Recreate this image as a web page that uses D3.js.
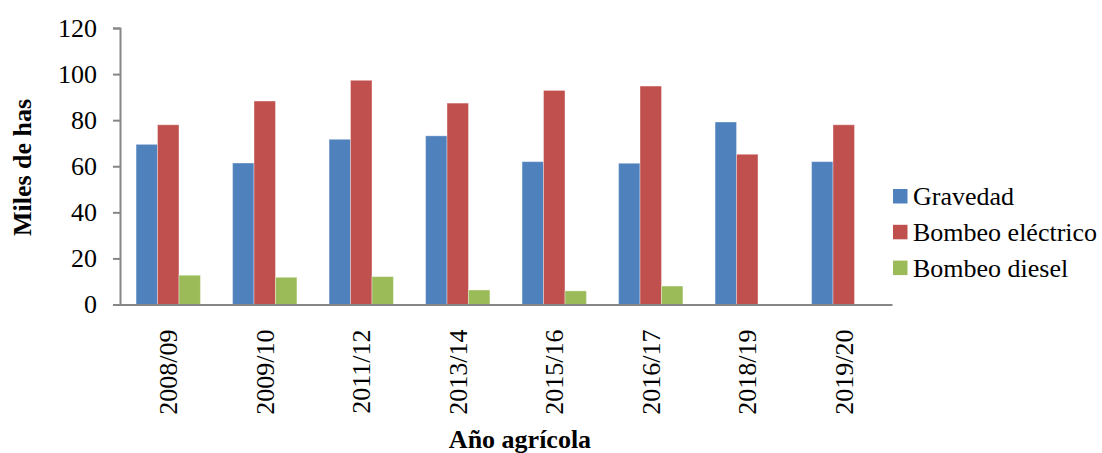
<!DOCTYPE html>
<html>
<head>
<meta charset="utf-8">
<script src="https://cdn.jsdelivr.net/npm/d3@7/dist/d3.min.js"></script>
<style>
  html, body { margin: 0; padding: 0; background: #fff; }
  svg { display: block; }
  text { font-family: "Liberation Serif", "Times New Roman", serif; fill: #000; }
</style>
</head>
<body>
<svg id="chart" width="1102" height="453"></svg>
<script>
// Superficie regada por tipo de riego (miles de hectáreas)
const categories = ["2008/09", "2009/10", "2011/12", "2013/14", "2015/16", "2016/17", "2018/19", "2019/20"];
const seriesNames = ["Gravedad", "Bombeo eléctrico", "Bombeo diesel"];
const gravedad = [69.5, 61.4, 71.7, 73.2, 62.0, 61.3, 79.2, 62.0];
const bombeoElectrico = [78.0, 88.3, 97.3, 87.4, 92.9, 94.8, 65.2, 78.0];
const bombeoDiesel = [12.7, 11.8, 12.1, 6.3, 5.9, 8.0, null, null];
const yTicks = [0, 20, 40, 60, 80, 100, 120];
const colors = ["#4F81BD", "#C0504D", "#9BBB59"];

const seriesValues = [gravedad, bombeoElectrico, bombeoDiesel];

const svg = d3.select("#chart");
const plotLeft = 120, plotRight = 892, plotTop = 28, plotBottom = 304.5;
const axisColor = "#868686";

const x0 = d3.scaleBand().domain(categories).range([plotLeft, plotRight]).padding(0);
const x1 = d3.scaleBand().domain(seriesNames).range([0, x0.bandwidth()])
  .paddingInner(0).paddingOuter(0.75);
const y = d3.scaleLinear().domain([0, 120]).range([plotBottom, plotTop]);

// Bars
const groups = svg.append("g").selectAll("g")
  .data(categories)
  .join("g")
  .attr("transform", d => `translate(${x0(d)},0)`);

groups.selectAll("rect")
  .data((c, i) => seriesNames.map((s, k) => ({ s, k, v: seriesValues[k][i] })).filter(d => d.v != null))
  .join("rect")
  .attr("x", d => x1(d.s))
  .attr("y", d => y(d.v))
  .attr("width", x1.bandwidth())
  .attr("height", d => y(0) - y(d.v))
  .attr("fill", d => colors[d.k])
  .attr("stroke", "rgba(255,255,255,0.35)")
  .attr("stroke-width", 1);

// Y axis
const yAxis = d3.axisLeft(y).tickValues(yTicks).tickSize(7).tickPadding(16).tickFormat(d3.format("d"));
const gy = svg.append("g").attr("transform", `translate(${plotLeft},0)`).call(yAxis);
gy.select(".domain").attr("stroke", axisColor).attr("stroke-width", 2);
gy.selectAll(".tick line").attr("stroke", axisColor).attr("stroke-width", 2);
gy.selectAll(".tick text")
  .style("font-family", '"Liberation Serif", "Times New Roman", serif')
  .style("font-size", "26px").attr("fill", "#000");

// X axis
const xAxis = d3.axisBottom(x0).tickSize(0).tickPadding(0);
const gx = svg.append("g").attr("transform", `translate(0,${plotBottom})`).call(xAxis);
gx.select(".domain").attr("stroke", axisColor).attr("stroke-width", 2);
gx.selectAll(".tick text")
  .style("font-family", '"Liberation Serif", "Times New Roman", serif')
  .style("font-size", "26px").attr("fill", "#000")
  .attr("text-anchor", "end")
  .attr("transform", "translate(0,25) rotate(-90)")
  .attr("x", 0).attr("y", 0).attr("dy", "0.35em");

// Axis titles
svg.append("text")
  .attr("transform", "translate(31,167.5) rotate(-90)")
  .attr("text-anchor", "middle")
  .style("font-size", "26px").style("font-weight", "bold")
  .text("Miles de has");

svg.append("text")
  .attr("x", 520).attr("y", 448)
  .attr("text-anchor", "middle")
  .style("font-size", "26px").style("font-weight", "bold")
  .text("Año agrícola");

// Legend
const legend = svg.append("g").attr("transform", "translate(893,189)");
const rowH = 35.8;
const items = legend.selectAll("g").data(seriesNames).join("g")
  .attr("transform", (d, i) => `translate(0,${i * rowH})`);
items.append("rect").attr("width", 14.5).attr("height", 14.5).attr("fill", (d, i) => colors[i]);
items.append("text").attr("x", 20).attr("y", 16).style("font-size", "26px").text(d => d);
</script>
</body>
</html>
